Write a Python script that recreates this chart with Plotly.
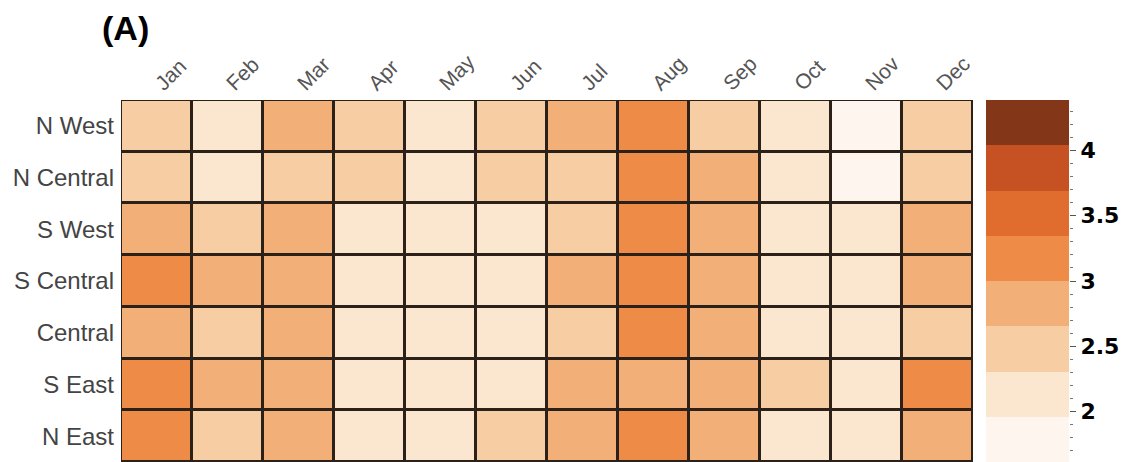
import plotly.graph_objects as go

months = ["Jan", "Feb", "Mar", "Apr", "May", "Jun", "Jul", "Aug", "Sep", "Oct", "Nov", "Dec"]
regions = ["N West", "N Central", "S West", "S Central", "Central", "S East", "N East"]

n_west    = [2.45, 2.12, 2.82, 2.47, 2.18, 2.50, 2.78, 3.12, 2.44, 2.15, 1.88, 2.46]
n_central = [2.48, 2.10, 2.45, 2.52, 2.14, 2.50, 2.43, 3.14, 2.80, 2.16, 1.86, 2.44]
s_west    = [2.78, 2.46, 2.83, 2.12, 2.13, 2.15, 2.45, 3.16, 2.82, 2.16, 2.20, 2.80]
s_central = [3.10, 2.80, 2.78, 2.10, 2.12, 2.11, 2.82, 3.15, 2.78, 2.14, 2.18, 2.82]
central   = [2.76, 2.44, 2.84, 2.10, 2.12, 2.10, 2.45, 3.12, 2.80, 2.12, 2.16, 2.47]
s_east    = [3.12, 2.80, 2.82, 2.14, 2.12, 2.13, 2.80, 2.84, 2.81, 2.42, 2.20, 3.10]
n_east    = [3.12, 2.45, 2.83, 2.12, 2.14, 2.48, 2.82, 3.14, 2.80, 2.14, 2.16, 2.80]

bin_edges = [1.615, 1.961, 2.308, 2.654, 3.0, 3.346, 3.693, 4.039, 4.385]
bin_colors = ["#fdf5ee", "#fbe6d0", "#f7cea3", "#f2af78", "#ee8b47", "#e06d2d", "#c65223", "#843619"]
cbar_ticks = [2, 2.5, 3, 3.5, 4]

z = [n_west, n_central, s_west, s_central, central, s_east, n_east]
zmin, zmax = bin_edges[0], bin_edges[-1]

colorscale = []
for i, c in enumerate(bin_colors):
    f0 = (bin_edges[i] - zmin) / (zmax - zmin)
    f1 = (bin_edges[i + 1] - zmin) / (zmax - zmin)
    colorscale.append([f0, c])
    colorscale.append([f1, c])
colorscale[0][0] = 0.0
colorscale[-1][0] = 1.0

bin_centers = [(bin_edges[i] + bin_edges[i + 1]) / 2 for i in range(len(bin_colors))]

W, H = 1131, 462
fig = go.Figure()
fig.add_trace(go.Heatmap(
    z=z, x=months, y=regions, colorscale=colorscale, zmin=zmin, zmax=zmax,
    xgap=3, ygap=3, showscale=False, xaxis="x", yaxis="y",
))
fig.add_trace(go.Heatmap(
    z=[[c] for c in bin_centers], x=[0], y=bin_centers, colorscale=colorscale,
    zmin=zmin, zmax=zmax, showscale=False, xaxis="x2", yaxis="y2",
))

ytop = 1 - 100 / H
fig.update_layout(
    width=W, height=H,
    margin=dict(l=0, r=0, t=0, b=0),
    paper_bgcolor="white",
    plot_bgcolor="#2b2119",
    xaxis=dict(domain=[121 / W, 973 / W], side="top", tickangle=-45, ticks="",
               tickfont=dict(family="Liberation Sans, Arial", size=21, color="#555555"),
               ticklabelstandoff=0,
               showgrid=False, zeroline=False, automargin=False, anchor="y"),
    yaxis=dict(domain=[0, ytop], autorange="reversed", ticks="",
               tickfont=dict(family="Liberation Sans, Arial", size=24, color="#444444"),
               ticklabelstandoff=6,
               showgrid=False, zeroline=False, automargin=False, anchor="x"),
    xaxis2=dict(domain=[986 / W, 1069 / W], showticklabels=False, ticks="",
                showgrid=False, zeroline=False, anchor="y2", range=[-0.5, 0.5]),
    yaxis2=dict(domain=[0, ytop], range=[zmin, zmax], side="right", anchor="x2",
                tickvals=cbar_ticks, ticktext=[f"{t:g}" for t in cbar_ticks],
                ticks="outside", ticklen=6, tickwidth=1, tickcolor="#555555",
                minor=dict(dtick=0.1, tick0=0, ticks="outside", ticklen=3, tickcolor="#777777"),
                tickfont=dict(family="DejaVu Sans", size=22, color="black", weight="bold"),
                showgrid=False, zeroline=False, showline=False, automargin=False),
    annotations=[dict(text="<b>(A)</b>", x=100 / W, y=1 - 7 / H, xref="paper", yref="paper",
                      xanchor="left", yanchor="top", showarrow=False,
                      font=dict(family="Liberation Sans, Arial", size=34, color="black"))],
)

fig.write_html("out.html", config={"displayModeBar": False},
               post_script="document.body.style.margin='0';")
